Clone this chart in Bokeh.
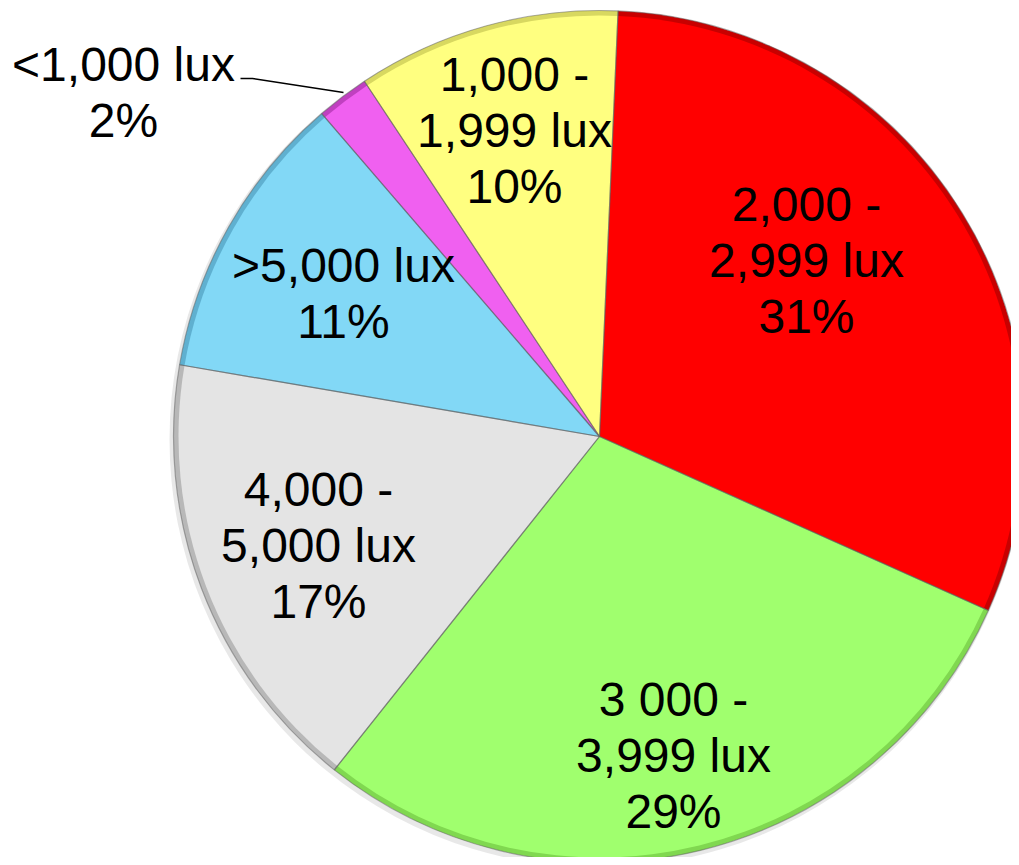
import math
from bokeh.plotting import figure
from bokeh.models import Range1d, ColumnDataSource
from bokeh.core.properties import value
from bokeh.embed import file_html
from bokeh.resources import INLINE

# Data (clockwise from the top)
categories = ["2,000 -\n2,999 lux", "3 000 -\n3,999 lux", "4,000 -\n5,000 lux",
              ">5,000 lux", "<1,000 lux", "1,000 -\n1,999 lux"]
percent = [31, 29, 17, 11, 2, 10]
colors = ["#FF0000", "#A0FF6E", "#E4E4E4", "#82D8F6", "#F060F0", "#FFFF80"]
edge_colors = ["#C80000", "#80D850", "#B8B8B8", "#5FB0D0", "#C040C0", "#D8D860"]

W, H = 1011, 857
CX, CY, R = 599, 865 - 436, 426
START_DEG = 2.5  # first slice boundary, clockwise from 12 o'clock

p = figure(width=W, height=H, output_backend="svg", toolbar_location=None,
           x_range=Range1d(0, W), y_range=Range1d(865 - H, 865),
           min_border=0)
p.axis.visible = False
p.grid.visible = False
p.outline_line_color = None
p.background_fill_color = "white"
p.border_fill_color = "white"

total = sum(percent)
starts, ends = [], []
cum = START_DEG
for v in percent:
    a0 = cum
    a1 = cum + v / total * 360.0
    starts.append(math.radians(90 - a1))
    ends.append(math.radians(90 - a0))
    cum = a1

src = ColumnDataSource(dict(x=[CX] * len(percent), y=[CY] * len(percent),
                            start=starts, end=ends, color=colors, edge=edge_colors))
# soft shadow
p.wedge(x=CX - 2, y=CY - 3, radius=R + 2, start_angle=0, end_angle=2 * math.pi,
        fill_color="#D8D8D8", line_color=None, fill_alpha=0.6)
p.wedge(x="x", y="y", radius=R, start_angle="start", end_angle="end", source=src,
        fill_color="edge", line_color=None)
p.wedge(x="x", y="y", radius=R - 5, start_angle="start", end_angle="end", source=src,
        fill_color="color", line_color=None)
p.wedge(x="x", y="y", radius=R, start_angle="start", end_angle="end", source=src,
        fill_color=None, line_color="#606060", line_width=1.2, line_alpha=0.5)

# labels
label_text = [c + "\n" + f"{v}%" for c, v in zip(categories, percent)]
label_x = [806, 673, 318, 343, 123, 514]
label_y_screen = [260, 755, 545, 293, 92, 130]
label_y = [865 - y for y in label_y_screen]
p.text(x=label_x, y=label_y, text=label_text, text_align="center",
       text_baseline="middle", text_font=value("Liberation Sans"),
       text_font_size="48px", text_color="#000000", text_line_height=1.05)

# leader line for small slice
p.line(x=[240, 252, 343], y=[865 - 78, 865 - 78, 865 - 92], line_color="black",
       line_width=1.5)

open("out.html", "w").write(file_html(p, INLINE))
